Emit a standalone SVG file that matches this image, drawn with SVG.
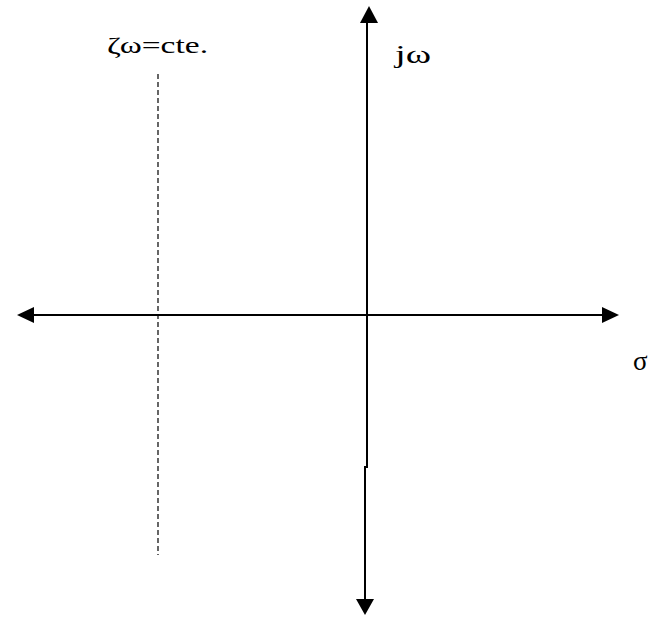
<svg xmlns="http://www.w3.org/2000/svg" width="653" height="617" viewBox="0 0 653 617">
<style>
.ax{stroke:#000;stroke-width:2;fill:none}
.lbl{font-family:"Liberation Serif","Times New Roman",serif;fill:#000}
</style>
<rect width="653" height="617" fill="#fff"/>
<g id="connectors">
<line class="ax" x1="33" y1="315" x2="604" y2="315"/>
<polygon points="17,315 34,307 34,323" fill="#000"/>
<polygon points="619,315 602,307 602,323" fill="#000"/>
<polyline class="ax" points="367,22 367,467 365,467 365,601"/>
<polygon points="369,6 360,23 378,23" fill="#000"/>
<polygon points="365,615 356,599 374,599" fill="#000"/>
<line x1="158" y1="74" x2="158" y2="555" stroke="#000" stroke-width="1.2" stroke-dasharray="5,3"/>
</g>
<g id="label-zeta"><text class="lbl" x="107" y="53" font-size="23" textLength="101" lengthAdjust="spacingAndGlyphs">ζω=cte.</text></g>
<g id="label-jw"><text class="lbl" x="395" y="63" font-size="25" textLength="36" lengthAdjust="spacingAndGlyphs">jω</text></g>
<g id="label-sigma"><text class="lbl" x="633" y="370" font-size="27">σ</text></g>
</svg>
